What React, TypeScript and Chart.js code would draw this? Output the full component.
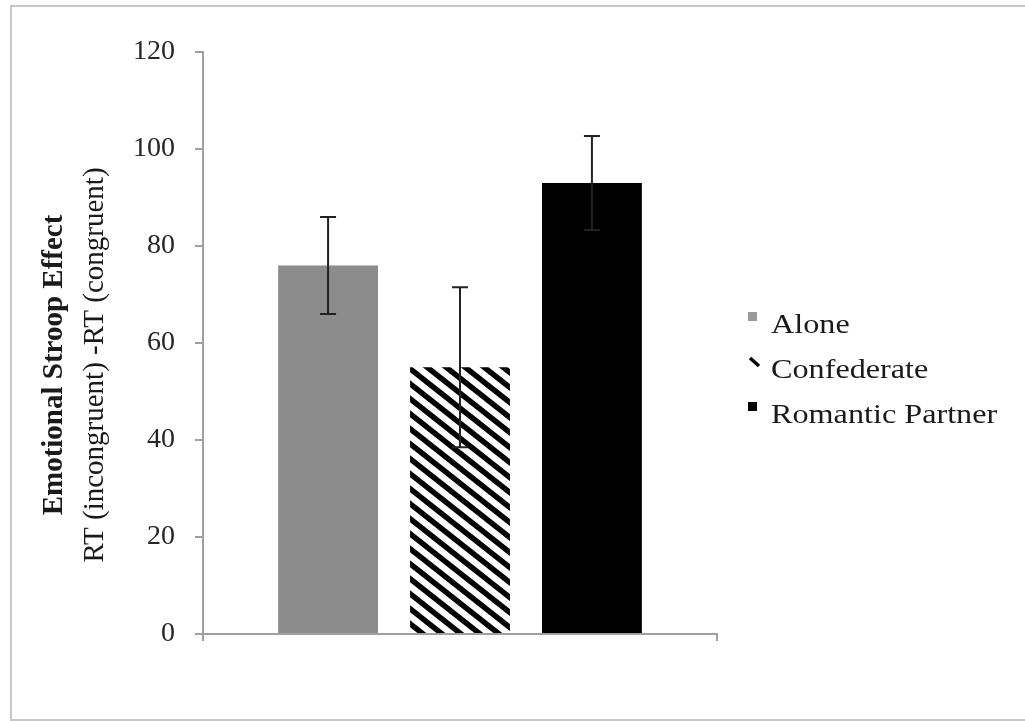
import React, { useEffect, useRef } from "react";
import { Chart, registerables } from "chart.js";

Chart.register(...registerables);

const categories = ["Alone", "Confederate", "Romantic Partner"];
const means = [76, 55, 93];
const errors = [10, 16.5, 9.7];
const yTicks = [0, 20, 40, 60, 80, 100, 120];
const yTitleBold = "Emotional Stroop Effect";
const yTitleRegular = "RT (incongruent) -RT (congruent)";
const solidColors = ["#8c8c8c", "hatch", "#000000"];
const legendMarkerColors = ["#9a9a9a", "#000000", "#000000"];

function makeHatch(): CanvasPattern | string {
  const w = 19;
  const h = 15;
  const c = document.createElement("canvas");
  c.width = w;
  c.height = h;
  const g = c.getContext("2d");
  if (!g) return "#000";
  g.fillStyle = "#ffffff";
  g.fillRect(0, 0, w, h);
  g.strokeStyle = "#000000";
  g.lineWidth = 5.5;
  g.lineCap = "butt";
  for (const x0 of [-w, 0, w]) {
    g.beginPath();
    g.moveTo(x0 - w, -h);
    g.lineTo(x0 + 2 * w, 2 * h);
    g.stroke();
  }
  const ctx = document.createElement("canvas").getContext("2d");
  const p = ctx ? ctx.createPattern(c, "repeat") : null;
  return p || "#000";
}

export default function App() {
  const ref = useRef<HTMLCanvasElement | null>(null);

  useEffect(() => {
    if (!ref.current) return;
    const hatch = makeHatch();
    const FONT = "'Liberation Serif', 'Times New Roman', serif";

    const bgPlugin = {
      id: "bgFrame",
      beforeDraw(chart: any) {
        const ctx = chart.ctx;
        ctx.save();
        ctx.fillStyle = "#ffffff";
        ctx.fillRect(0, 0, chart.width, chart.height);
        ctx.strokeStyle = "#c8c8c8";
        ctx.lineWidth = 2;
        ctx.beginPath();
        ctx.moveTo(chart.width + 5, 6);
        ctx.lineTo(11, 6);
        ctx.lineTo(11, 720);
        ctx.lineTo(chart.width + 5, 720);
        ctx.stroke();
        ctx.restore();
      },
    };

    const errorPlugin = {
      id: "errorBars",
      afterDatasetsDraw(chart: any) {
        const ctx = chart.ctx;
        const y = chart.scales.y;
        ctx.save();
        ctx.strokeStyle = "#222222";
        ctx.lineWidth = 2;
        chart.data.datasets.forEach((ds: any, i: number) => {
          const bar = chart.getDatasetMeta(i).data[0];
          if (!bar) return;
          const x = bar.x;
          const v = ds.data[0];
          const hi = y.getPixelForValue(v + errors[i]);
          const lo = y.getPixelForValue(v - errors[i]);
          ctx.beginPath();
          ctx.moveTo(x, hi);
          ctx.lineTo(x, lo);
          ctx.moveTo(x - 8, hi);
          ctx.lineTo(x + 8, hi);
          ctx.moveTo(x - 8, lo);
          ctx.lineTo(x + 8, lo);
          ctx.stroke();
        });
        ctx.restore();
      },
    };

    const textPlugin = {
      id: "texts",
      afterDraw(chart: any) {
        const ctx = chart.ctx;
        const ca = chart.chartArea;
        ctx.save();
        ctx.fillStyle = "#1a1a1a";
        ctx.textAlign = "center";
        ctx.textBaseline = "middle";
        const cy = (ca.top + ca.bottom) / 2 + 22;
        ctx.save();
        ctx.translate(55, cy);
        ctx.rotate(-Math.PI / 2);
        ctx.font = `bold 29px ${FONT}`;
        ctx.fillText(yTitleBold, 0, 0);
        ctx.restore();
        ctx.save();
        ctx.translate(95, cy);
        ctx.rotate(-Math.PI / 2);
        ctx.font = `29px ${FONT}`;
        ctx.fillText(yTitleRegular, 0, 0);
        ctx.restore();

        // legend
        const baseY = 333;
        const step = 45;
        categories.forEach((label, i) => {
          const by = baseY + i * step;
          if (i === 1) {
            ctx.strokeStyle = legendMarkerColors[i];
            ctx.lineWidth = 3.5;
            ctx.beginPath();
            ctx.moveTo(750, by - 20);
            ctx.lineTo(759, by - 12);
            ctx.stroke();
          } else {
            ctx.fillStyle = legendMarkerColors[i];
            ctx.fillRect(748, by - 21, 9, 9);
          }
          ctx.save();
          ctx.fillStyle = "#1a1a1a";
          ctx.textAlign = "left";
          ctx.textBaseline = "alphabetic";
          ctx.font = `28px ${FONT}`;
          ctx.translate(771, by);
          ctx.scale(1.15, 1);
          ctx.fillText(label, 0, 0);
          ctx.restore();
        });
        ctx.restore();
      },
    };

    const chart = new Chart(ref.current, {
      type: "bar",
      data: {
        labels: [""],
        datasets: categories.map((c, i) => ({
          label: c,
          data: [means[i]],
          backgroundColor: solidColors[i] === "hatch" ? (hatch as any) : solidColors[i],
          borderWidth: 0,
          barPercentage: 0.757,
          categoryPercentage: 0.77,
        })),
      },
      options: {
        responsive: false,
        animation: false,
        layout: { padding: { left: 0, right: 308, top: 52, bottom: 87 } },
        plugins: {
          legend: { display: false },
          tooltip: { enabled: false },
          title: { display: false },
        },
        scales: {
          x: {
            type: "category",
            offset: true,
            grid: {
              display: true,
              drawOnChartArea: false,
              drawTicks: true,
              tickLength: 7,
              color: "#a0a0a0",
              lineWidth: 2,
              offset: true,
            },
            border: { display: true, color: "#a0a0a0", width: 2 },
            ticks: { display: false },
            afterFit: (s: any) => {
              s.height = 0;
            },
          },
          y: {
            min: 0,
            max: 120,
            afterBuildTicks: (s: any) => {
              s.ticks = yTicks.map((v) => ({ value: v }));
            },
            ticks: {
              stepSize: 20,
              padding: 20,
              color: "#262626",
              font: { family: FONT, size: 28 },
            },
            grid: {
              display: true,
              drawOnChartArea: false,
              drawTicks: true,
              tickLength: 8,
              color: "#a0a0a0",
              lineWidth: 2,
            },
            border: { display: true, color: "#a0a0a0", width: 2 },
            afterFit: (s: any) => {
              s.width = 203;
            },
          },
        },
      },
      plugins: [bgPlugin, errorPlugin, textPlugin],
    });
    return () => chart.destroy();
  }, []);

  return (
    <div style={{ position: "fixed", left: 0, top: 0, width: 1025, height: 721, background: "#fff" }}>
      <canvas ref={ref} width={1025} height={721} style={{ display: "block" }} />
    </div>
  );
}
